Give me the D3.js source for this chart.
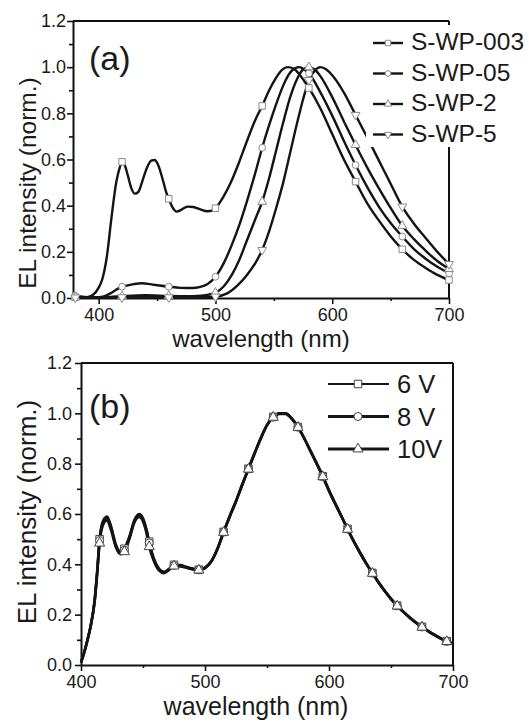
<!DOCTYPE html>
<html>
<head>
<meta charset="utf-8">
<script src="https://cdn.jsdelivr.net/npm/d3@7"></script>
<style>
  html, body { margin: 0; padding: 0; background: #fff; }
  svg { display: block; }
  text { font-family: "Liberation Sans", Arial, sans-serif; fill: #1a1a1a; }
</style>
</head>
<body>
<svg id="chart" width="529" height="722"></svg>
<script>
// ---------------- DATA ----------------
// Panel (a): [wavelength nm, normalized EL intensity]
const seriesNamesA = ["S-WP-003", "S-WP-05", "S-WP-2", "S-WP-5"];
const wp003 = [[380,0.003],[390,0.004],[395,0.013],[400,0.045],[403,0.08],[407,0.18],[411,0.35],[415,0.50],[418,0.565],[420,0.59],[422,0.58],[425,0.53],[428,0.475],[431,0.452],[434,0.46],[437,0.5],[441,0.56],[445,0.595],[448,0.598],[451,0.575],[455,0.51],[458,0.455],[460,0.43],[463,0.395],[467,0.374],[471,0.383],[476,0.396],[481,0.394],[487,0.384],[493,0.376],[497,0.378],[500,0.389],[507,0.44],[514,0.51],[520,0.585],[527,0.68],[534,0.77],[540,0.832],[546,0.9],[552,0.955],[557,0.988],[562,1.0],[567,0.993],[572,0.968],[576,0.94],[580,0.91],[590,0.82],[600,0.71],[610,0.60],[620,0.504],[630,0.41],[640,0.335],[650,0.268],[660,0.211],[670,0.165],[680,0.13],[690,0.1],[700,0.078]];
const wp05 = [[380,0.01],[390,0.004],[400,0.004],[405,0.008],[410,0.02],[415,0.036],[420,0.049],[425,0.055],[430,0.06],[437,0.064],[445,0.059],[452,0.054],[460,0.049],[470,0.044],[480,0.043],[487,0.048],[493,0.06],[500,0.092],[507,0.15],[514,0.23],[520,0.31],[527,0.42],[534,0.54],[540,0.651],[546,0.75],[552,0.84],[558,0.92],[563,0.97],[568,0.995],[572,1.0],[576,0.99],[580,0.973],[590,0.89],[600,0.79],[610,0.68],[620,0.576],[630,0.48],[640,0.395],[650,0.325],[660,0.266],[670,0.212],[680,0.17],[690,0.135],[700,0.107]];
const wp2 = [[380,0.003],[400,0.003],[410,0.005],[420,0.008],[440,0.012],[460,0.009],[480,0.008],[490,0.011],[500,0.023],[507,0.05],[514,0.1],[520,0.16],[527,0.25],[534,0.34],[540,0.417],[546,0.52],[552,0.64],[558,0.76],[564,0.87],[570,0.95],[575,0.99],[580,1.0],[585,0.99],[590,0.96],[600,0.87],[610,0.765],[620,0.663],[630,0.565],[640,0.475],[650,0.39],[660,0.313],[670,0.255],[680,0.205],[690,0.16],[700,0.126]];
const wp5 = [[380,0.002],[420,0.003],[460,0.003],[490,0.004],[500,0.006],[510,0.02],[520,0.06],[527,0.1],[534,0.15],[540,0.208],[546,0.29],[552,0.39],[558,0.5],[564,0.63],[570,0.76],[575,0.86],[580,0.944],[585,0.985],[590,1.0],[595,0.99],[600,0.965],[610,0.89],[620,0.793],[630,0.695],[640,0.595],[650,0.495],[660,0.396],[670,0.322],[680,0.26],[690,0.2],[700,0.147]];
const markerWlA = [380, 420, 460, 500, 540, 580, 620, 660, 700];

// Panel (b)
const seriesNamesB = ["6 V", "8 V", "10V"];
const wlB = [400,402,405,408,411,413,415,418,421,424,428,432,435,439,443,447,450,453,455,459,463,467,471,475,480,485,490,495,
  500,505,510,515,520,525,530,535,540,545,550,555,560,565,570,575,580,585,590,595,600,605,610,615,620,625,630,635,640,645,650,655,660,665,670,675,680,685,690,695,700];
const v6V  = [0.01,0.04,0.095,0.16,0.26,0.37,0.50,0.575,0.59,0.555,0.48,0.45,0.462,0.51,0.575,0.60,0.583,0.535,0.49,0.42,0.382,0.37,0.382,0.398,0.397,0.39,0.383,0.379,
  0.387,0.412,0.462,0.529,0.592,0.652,0.717,0.78,0.842,0.902,0.954,0.986,1.0,1.0,0.98,0.946,0.902,0.852,0.802,0.75,0.694,0.642,0.592,0.541,0.492,0.447,0.405,0.366,0.329,0.295,0.264,0.236,0.212,0.19,0.17,0.152,0.136,0.121,0.107,0.095,0.086];
const v8V  = [0.01,0.04,0.095,0.16,0.255,0.365,0.495,0.57,0.585,0.55,0.475,0.445,0.456,0.505,0.57,0.595,0.578,0.53,0.485,0.415,0.378,0.368,0.38,0.396,0.395,0.388,0.382,0.378,
  0.386,0.411,0.461,0.528,0.591,0.651,0.716,0.779,0.841,0.901,0.953,0.985,0.999,0.999,0.979,0.945,0.901,0.851,0.801,0.749,0.693,0.641,0.591,0.54,0.491,0.446,0.404,0.365,0.328,0.294,0.263,0.235,0.211,0.189,0.169,0.151,0.135,0.12,0.106,0.094,0.085];
const v10V = [0.01,0.04,0.095,0.16,0.25,0.36,0.484,0.56,0.575,0.54,0.47,0.44,0.45,0.50,0.565,0.588,0.57,0.52,0.47,0.41,0.375,0.365,0.378,0.393,0.392,0.386,0.38,0.377,
  0.385,0.41,0.46,0.527,0.59,0.65,0.715,0.778,0.84,0.9,0.952,0.984,0.998,0.998,0.978,0.944,0.9,0.85,0.8,0.748,0.692,0.64,0.59,0.539,0.49,0.445,0.403,0.364,0.327,0.293,0.262,0.234,0.21,0.188,0.168,0.15,0.134,0.119,0.105,0.093,0.084];
const markerWlB = [415,435,455,475,495,515,535,555,575,595,615,635,655,675,695];

const xTicks = [400, 500, 600, 700];
const xMinorTicks = [450, 550, 650];
const yTicks = [0, 0.2, 0.4, 0.6, 0.8, 1.0, 1.2];
const yMinorTicks = [0.1, 0.3, 0.5, 0.7, 0.9, 1.1];

// ---------------- DRAW ----------------
const svg = d3.select("#chart");
const FONT_TICK = 18;

function symbolPath(kind, size) {
  if (kind === "square") return d3.symbol(d3.symbolSquare, size)();
  if (kind === "circle") return d3.symbol(d3.symbolCircle, size)();
  return d3.symbol(d3.symbolTriangle, size)();
}

function drawPanel(cfg) {
  const g = svg.append("g");
  const x = d3.scaleLinear().domain(cfg.xDomain).range([cfg.left, cfg.right]);
  const y = d3.scaleLinear().domain([0, 1.2]).range([cfg.bottom, cfg.top]);

  // frame top & right
  g.append("line").attr("x1", cfg.left).attr("x2", cfg.right).attr("y1", cfg.top).attr("y2", cfg.top)
    .attr("stroke", "#111").attr("stroke-width", 2);
  g.append("line").attr("x1", cfg.right).attr("x2", cfg.right).attr("y1", cfg.top).attr("y2", cfg.bottom)
    .attr("stroke", "#111").attr("stroke-width", 2);

  // minor ticks
  const xm = g.append("g").attr("transform", `translate(0,${cfg.bottom})`)
    .call(d3.axisBottom(x).tickValues(xMinorTicks).tickSize(3).tickFormat(""));
  xm.select(".domain").remove();
  const ym = g.append("g").attr("transform", `translate(${cfg.left},0)`)
    .call(d3.axisLeft(y).tickValues(yMinorTicks).tickSize(4).tickFormat(""));
  ym.select(".domain").remove();

  // major axes
  const xa = g.append("g").attr("transform", `translate(0,${cfg.bottom})`)
    .call(d3.axisBottom(x).tickValues(xTicks).tickSize(6).tickSizeOuter(0).tickPadding(cfg.xPad).tickFormat(d3.format("d")));
  const ya = g.append("g").attr("transform", `translate(${cfg.left},0)`)
    .call(d3.axisLeft(y).tickValues(yTicks).tickSize(6).tickSizeOuter(0).tickPadding(cfg.yPad).tickFormat(d3.format(".1f")));
  [xa, ya, xm, ym].forEach(a => {
    a.selectAll("line").attr("stroke", "#111").attr("stroke-width", 1.6);
    a.select(".domain").attr("stroke", "#111").attr("stroke-width", 2);
    a.selectAll("text").attr("font-size", FONT_TICK).attr("font-family", "Liberation Sans, Arial, sans-serif").attr("fill", "#1a1a1a");
  });

  // axis titles
  g.append("text").attr("x", cfg.xTitleX).attr("y", cfg.xTitleY).attr("text-anchor", "middle")
    .attr("font-size", cfg.xTitleSize).text("wavelength (nm)");
  g.append("text").attr("transform", `translate(${cfg.yTitleX},${cfg.yTitleY}) rotate(-90)`)
    .attr("text-anchor", "middle").attr("font-size", cfg.titleSize).text("EL intensity (norm.)");

  // panel label
  g.append("text").attr("x", cfg.labelX).attr("y", cfg.labelY).attr("font-size", 34).text(cfg.label);

  return { g, x, y };
}

// ---- Panel (a)
const A = drawPanel({
  xDomain: [378, 700], left: 73, right: 449, top: 21, bottom: 298,
  xPad: 4, yPad: 1, titleSize: 24.5, xTitleSize: 24,
  xTitleX: 261, xTitleY: 347, yTitleX: 36, yTitleY: 183,
  label: "(a)", labelX: 89, labelY: 70
});
const seriesA = [
  { name: seriesNamesA[0], data: wp003, kind: "square", size: 42, rot: 0 },
  { name: seriesNamesA[1], data: wp05, kind: "circle", size: 36, rot: 0 },
  { name: seriesNamesA[2], data: wp2, kind: "triangle", size: 34, rot: 0 },
  { name: seriesNamesA[3], data: wp5, kind: "triangle", size: 34, rot: 180 }
];
const lineA = d3.line().x(d => A.x(d[0])).y(d => A.y(d[1])).curve(d3.curveMonotoneX);
seriesA.forEach(s => {
  A.g.append("path").attr("d", lineA(s.data)).attr("fill", "none").attr("stroke", "#141414").attr("stroke-width", 2.4);
});
seriesA.forEach(s => {
  const pts = s.data.filter(d => markerWlA.includes(d[0]));
  A.g.selectAll(null).data(pts).enter().append("path")
    .attr("d", symbolPath(s.kind, s.size))
    .attr("transform", d => `translate(${A.x(d[0])},${A.y(d[1])}) rotate(${s.rot})`)
    .attr("fill", "#fff").attr("stroke", "#8a8a8a").attr("stroke-width", 1);
});
// legend (a) with white background over the frame
const legA = svg.append("g");
legA.append("rect").attr("x", 366).attr("y", 25).attr("width", 163).attr("height", 122).attr("fill", "#fff");
seriesA.forEach((s, i) => {
  const yy = 43 + i * 30.5;
  legA.append("line").attr("x1", 373).attr("x2", 403).attr("y1", yy).attr("y2", yy).attr("stroke", "#141414").attr("stroke-width", 2.4);
  legA.append("path").attr("d", symbolPath(s.kind, s.size * 0.7))
    .attr("transform", `translate(388,${yy}) rotate(${s.rot})`)
    .attr("fill", "#fff").attr("stroke", "#8a8a8a").attr("stroke-width", 1);
  legA.append("text").attr("x", 411).attr("y", yy + 7).attr("font-size", 24.5).text(s.name);
});

// ---- Panel (b)
const B = drawPanel({
  xDomain: [400, 700], left: 81, right: 453, top: 363, bottom: 665,
  xPad: 4, yPad: 3, titleSize: 26, xTitleSize: 25,
  xTitleX: 256, xTitleY: 715, yTitleX: 36, yTitleY: 512,
  label: "(b)", labelX: 89, labelY: 418
});
const seriesB = [
  { name: seriesNamesB[0], vals: v6V, kind: "square", size: 56 },
  { name: seriesNamesB[1], vals: v8V, kind: "circle", size: 50 },
  { name: seriesNamesB[2], vals: v10V, kind: "triangle", size: 44 }
];
const lineB = d3.line().x(d => B.x(d[0])).y(d => B.y(d[1])).curve(d3.curveMonotoneX);
seriesB.forEach(s => {
  const data = wlB.map((w, i) => [w, s.vals[i]]);
  B.g.append("path").attr("d", lineB(data)).attr("fill", "none").attr("stroke", "#141414").attr("stroke-width", 2.6);
});
seriesB.forEach(s => {
  const pts = wlB.map((w, i) => [w, s.vals[i]]).filter(d => markerWlB.includes(d[0]));
  B.g.selectAll(null).data(pts).enter().append("path")
    .attr("d", symbolPath(s.kind, s.size))
    .attr("transform", d => `translate(${B.x(d[0])},${B.y(d[1])})`)
    .attr("fill", "#fff").attr("stroke", "#444").attr("stroke-width", 1);
});
const legB = svg.append("g");
seriesB.forEach((s, i) => {
  const yy = 384 + i * 32.5;
  legB.append("line").attr("x1", 328).attr("x2", 389).attr("y1", yy).attr("y2", yy)
    .attr("stroke", "#141414").attr("stroke-width", i === 0 ? 1.8 : 2.8);
  legB.append("path").attr("d", symbolPath(s.kind, s.size))
    .attr("transform", `translate(358,${yy})`)
    .attr("fill", "#fff").attr("stroke", "#444").attr("stroke-width", 1);
  legB.append("text").attr("x", 397).attr("y", yy + 9).attr("font-size", 25.5).text(s.name);
});
</script>
</body>
</html>
